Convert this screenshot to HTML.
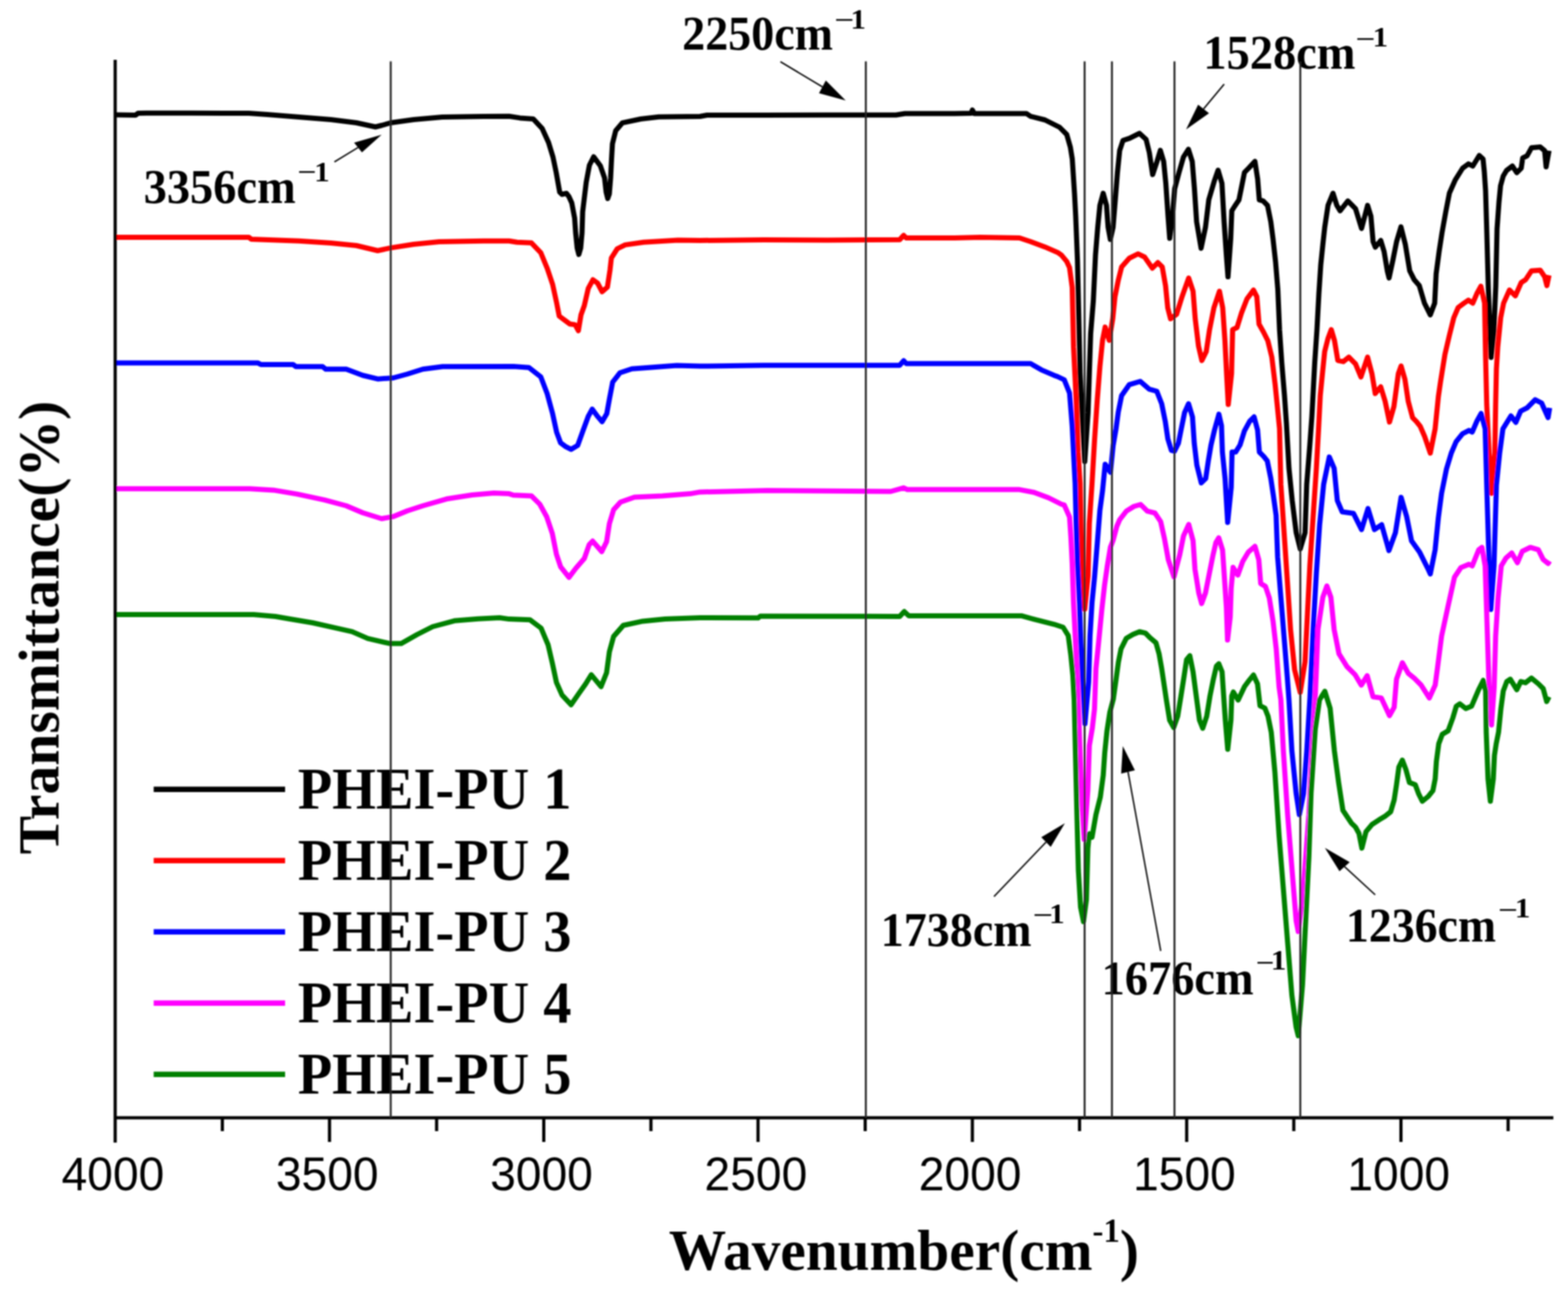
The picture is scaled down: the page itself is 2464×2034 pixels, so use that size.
<!DOCTYPE html><html><head><meta charset="utf-8"><title>FTIR spectra</title><style>html,body{margin:0;padding:0;background:#fff;overflow:hidden;}svg{display:block;}</style></head><body>
<svg width="2464" height="2034" viewBox="0 0 2464 2034">
<defs><filter id="soft" x="-0.01" y="-0.01" width="1.02" height="1.02"><feGaussianBlur stdDeviation="1"/></filter></defs>
<rect width="2464" height="2034" fill="#fff"/>
<g filter="url(#soft)">
<polyline fill="none" stroke="#000000" stroke-width="8" stroke-linejoin="round" stroke-linecap="butt" points="181.0,180.5 213.0,181.0 217.0,178.0 230.0,177.8 300.0,177.8 391.0,178.0 420.0,180.0 470.0,184.0 520.0,188.0 560.0,193.0 590.0,199.5 600.0,197.0 614.0,193.0 650.0,188.0 695.0,184.0 760.0,183.0 800.0,182.8 817.0,185.4 838.0,187.0 852.0,202.0 862.0,224.0 869.0,247.0 874.0,271.0 879.5,302.0 883.0,305.5 890.0,303.8 894.0,309.0 898.5,319.0 903.0,343.0 904.6,366.0 907.0,390.0 909.6,400.0 912.5,390.0 914.6,366.0 915.6,333.0 918.0,313.0 921.2,286.4 926.2,259.8 932.9,246.5 943.4,260.6 950.0,279.6 952.5,302.0 955.0,312.0 957.5,305.0 959.5,280.0 961.0,250.0 962.4,226.0 967.6,205.3 978.0,193.2 1007.0,187.0 1035.0,183.7 1100.0,183.0 1111.0,181.0 1200.0,181.0 1300.0,180.8 1408.0,180.8 1422.0,178.5 1500.0,178.5 1526.0,178.0 1528.0,173.0 1531.0,178.5 1613.0,178.5 1619.3,182.8 1642.0,188.5 1665.0,200.0 1676.3,211.3 1682.0,231.3 1685.0,250.0 1688.6,305.5 1690.4,340.0 1693.2,410.0 1697.3,586.6 1701.5,669.6 1704.6,725.6 1709.8,648.9 1711.8,586.6 1713.9,524.4 1718.1,472.6 1721.5,400.6 1725.0,357.4 1728.4,322.8 1733.6,303.8 1738.8,322.8 1741.3,357.4 1744.8,376.4 1749.1,357.4 1752.6,314.2 1756.0,271.0 1759.5,236.4 1764.7,220.8 1775.0,217.4 1790.6,209.6 1801.0,219.1 1806.1,239.9 1811.3,274.4 1818.2,253.7 1823.4,236.4 1828.6,253.7 1832.0,288.2 1835.5,340.0 1838.1,374.6 1842.4,340.0 1845.9,296.9 1852.8,271.0 1859.7,246.8 1867.5,234.7 1873.5,253.7 1877.0,296.9 1880.4,348.7 1887.4,390.2 1894.3,357.4 1899.5,314.2 1908.1,284.8 1914.1,267.5 1920.2,288.2 1923.6,348.7 1927.1,400.6 1929.7,435.1 1934.0,374.6 1935.7,331.4 1940.0,324.5 1946.9,314.2 1950.4,296.9 1955.6,271.0 1962.5,264.0 1972.0,253.7 1976.3,281.3 1978.9,314.2 1984.9,315.9 1991.8,322.8 1997.0,348.7 2000.4,375.0 2004.5,412.0 2008.0,455.0 2010.7,518.2 2014.2,570.1 2018.5,621.9 2021.5,665.0 2025.5,736.0 2030.6,786.7 2036.9,837.4 2043.2,862.8 2050.8,837.4 2053.4,761.4 2058.4,698.0 2061.5,655.0 2066.0,570.1 2069.5,518.2 2072.5,462.0 2075.5,416.0 2079.0,382.0 2081.7,357.4 2086.9,322.8 2094.7,303.8 2100.7,322.8 2105.9,331.4 2118.0,315.9 2130.1,328.0 2139.6,359.1 2149.1,322.8 2154.3,340.0 2157.7,379.8 2161.2,388.5 2169.8,378.1 2175.0,395.4 2180.2,426.5 2182.8,436.9 2188.8,409.2 2194.6,380.0 2201.5,356.7 2208.4,384.3 2215.3,425.8 2222.3,439.6 2230.3,448.8 2238.4,476.5 2247.6,494.9 2254.5,476.5 2256.8,430.4 2261.4,395.9 2266.0,365.9 2271.8,333.6 2277.6,303.7 2286.8,282.9 2298.3,264.5 2307.5,257.6 2314.4,261.0 2324.5,244.5 2330.5,250.0 2332.5,270.0 2334.5,300.0 2336.5,368.0 2338.8,453.5 2343.2,561.8 2347.5,520.0 2350.5,450.0 2352.5,360.0 2355.5,318.0 2358.0,292.0 2362.2,276.8 2367.4,268.0 2376.6,261.0 2383.5,271.4 2390.5,264.5 2392.8,248.4 2399.7,244.9 2406.6,232.3 2420.4,231.1 2427.3,236.9 2429.6,262.2 2434.2,236.9"/>
<polyline fill="none" stroke="#ff0000" stroke-width="8" stroke-linejoin="round" stroke-linecap="butt" points="181.0,373.0 250.0,373.0 391.0,373.0 395.0,376.0 470.0,378.7 520.0,382.0 560.0,386.0 593.5,394.0 614.0,389.6 650.0,384.0 690.0,380.0 760.0,378.7 800.0,378.7 812.4,380.7 835.0,381.8 849.8,397.3 860.0,422.0 868.4,447.0 874.7,476.0 878.8,496.9 887.0,503.0 895.4,509.3 903.7,510.4 908.9,519.7 913.0,494.8 918.2,480.3 924.4,453.3 931.7,439.8 939.0,445.0 946.2,458.5 954.5,451.2 958.6,424.3 960.7,405.6 970.0,391.0 982.5,384.9 1011.5,380.7 1065.4,377.6 1100.0,378.0 1200.0,377.0 1300.0,377.5 1413.8,376.8 1420.0,370.0 1424.0,374.0 1500.0,374.0 1540.0,373.0 1602.0,374.0 1619.3,379.7 1642.0,388.2 1662.0,396.8 1668.0,401.0 1676.3,411.0 1680.7,420.7 1684.9,451.8 1687.0,545.2 1691.1,628.1 1694.2,711.0 1697.3,760.0 1699.4,864.4 1702.5,947.4 1704.6,957.7 1709.8,905.9 1711.8,823.0 1716.0,760.7 1720.1,690.3 1724.3,628.1 1728.4,576.3 1732.6,534.8 1736.7,514.1 1743.0,534.8 1748.6,501.0 1752.1,466.4 1757.3,440.5 1762.5,419.7 1774.6,405.9 1788.4,399.0 1798.8,404.2 1810.8,421.5 1819.5,412.8 1826.4,419.7 1831.6,449.1 1835.0,483.7 1839.4,501.0 1848.9,494.0 1857.5,466.4 1867.9,437.0 1874.8,457.8 1878.2,501.0 1883.4,544.2 1888.6,566.6 1895.5,552.8 1900.7,518.2 1907.6,483.7 1916.3,457.8 1921.4,483.7 1924.9,535.5 1927.5,587.4 1930.1,635.7 1935.3,587.4 1937.0,518.2 1943.9,514.8 1950.8,492.3 1959.5,469.9 1969.8,456.0 1975.0,466.4 1978.5,509.6 1985.4,521.7 1992.3,535.5 1998.6,561.4 2003.8,604.6 2007.3,639.2 2010.7,673.8 2012.8,761.4 2017.9,837.4 2023.0,913.5 2028.0,989.5 2034.4,1052.9 2043.2,1088.4 2050.8,1040.2 2054.6,964.2 2058.4,888.1 2063.5,812.1 2068.6,736.0 2072.0,675.0 2074.7,621.9 2078.1,587.4 2081.6,552.8 2086.8,532.1 2092.0,518.2 2097.1,535.5 2102.3,566.6 2111.0,568.4 2119.6,561.4 2130.0,571.8 2138.6,592.5 2149.0,561.4 2155.9,587.4 2161.1,618.5 2169.7,608.1 2176.6,630.6 2183.5,663.4 2190.4,639.2 2197.4,587.4 2201.7,575.3 2207.7,596.0 2212.9,630.6 2219.8,656.5 2225.7,662.5 2231.9,670.3 2238.4,685.3 2247.6,712.1 2255.2,674.1 2260.3,623.4 2263.7,600.0 2270.6,557.1 2277.6,527.2 2284.5,499.5 2291.4,483.4 2300.6,476.5 2307.5,471.9 2314.4,476.5 2321.3,460.4 2327.1,450.0 2332.9,476.5 2334.5,560.0 2336.3,636.0 2340.1,712.1 2343.9,775.5 2349.0,712.1 2350.3,636.0 2351.5,580.3 2353.6,545.6 2358.2,499.5 2362.8,476.5 2372.0,455.8 2381.2,465.0 2390.5,444.2 2397.4,439.6 2406.6,425.8 2420.4,424.7 2427.3,435.0 2430.8,448.8 2434.2,432.7"/>
<polyline fill="none" stroke="#0000ff" stroke-width="8" stroke-linejoin="round" stroke-linecap="butt" points="181.0,570.4 405.0,570.4 410.0,573.0 460.6,573.0 465.0,576.3 507.0,576.3 512.0,580.3 544.0,580.3 570.0,590.0 593.5,595.7 618.0,594.0 640.0,588.0 664.6,580.3 695.5,576.3 806.8,576.0 831.0,577.7 849.8,592.3 860.0,619.2 868.4,650.3 874.7,679.4 880.9,696.0 889.2,702.2 897.5,706.3 907.8,700.1 916.0,677.3 924.4,654.5 930.6,643.1 939.0,654.5 946.2,662.8 953.5,650.3 957.6,627.5 962.8,600.6 974.2,586.0 992.9,579.8 1019.8,577.7 1063.4,574.6 1100.0,575.6 1200.0,574.2 1413.8,574.2 1420.0,567.0 1424.0,571.4 1619.3,571.4 1636.4,581.3 1656.3,589.9 1662.0,592.0 1672.4,597.0 1680.7,617.7 1684.9,669.6 1688.0,731.8 1689.5,760.0 1691.1,823.0 1693.2,885.2 1696.3,947.4 1698.4,1009.6 1701.5,1071.8 1704.9,1137.6 1710.8,1071.8 1712.9,999.2 1716.0,947.4 1720.1,905.9 1724.3,854.1 1728.4,802.2 1732.6,771.1 1736.7,729.7 1745.0,742.2 1749.2,700.7 1753.8,673.8 1757.3,647.8 1762.5,621.9 1774.6,604.6 1791.8,599.5 1805.7,611.6 1817.8,615.0 1825.5,634.6 1831.1,662.2 1835.2,689.9 1840.7,707.8 1845.6,709.2 1851.8,696.8 1855.9,676.0 1861.5,648.4 1867.7,634.6 1873.9,655.3 1876.7,696.8 1880.8,731.3 1887.7,759.0 1894.7,752.1 1898.8,724.4 1903.0,699.5 1908.5,676.0 1915.4,651.2 1919.5,669.1 1920.9,710.6 1925.1,752.1 1929.2,821.2 1934.8,765.9 1936.1,710.6 1941.7,710.6 1948.6,699.5 1955.5,677.4 1963.8,662.2 1970.7,655.3 1976.2,676.0 1979.0,710.6 1985.9,717.5 1991.4,724.4 1997.0,752.1 2001.1,779.7 2005.3,810.0 2007.7,875.5 2012.8,938.8 2017.9,1002.2 2023.0,1065.6 2025.5,1100.0 2030.1,1180.2 2036.8,1247.1 2041.8,1280.5 2048.5,1247.1 2053.5,1180.2 2058.5,1096.7 2063.5,989.5 2068.6,900.8 2073.7,824.8 2080.0,761.4 2088.9,718.3 2096.5,736.0 2101.5,786.7 2109.1,804.5 2126.9,807.0 2139.6,832.4 2149.7,799.4 2159.8,832.4 2171.2,824.8 2182.6,865.3 2192.8,837.4 2201.7,781.7 2210.5,812.1 2218.1,850.1 2230.8,867.9 2243.5,893.2 2247.6,902.2 2255.2,864.2 2260.3,813.5 2265.3,775.5 2273.0,737.4 2280.6,712.1 2288.2,694.3 2298.3,681.7 2308.4,676.6 2313.5,679.1 2321.1,661.4 2327.5,650.0 2333.8,674.1 2336.3,762.8 2340.1,889.5 2342.7,958.0 2347.7,889.5 2351.5,762.8 2356.6,712.1 2361.7,674.1 2374.3,653.8 2382.0,663.9 2389.6,646.2 2399.7,641.1 2412.4,628.4 2422.5,633.5 2432.7,656.3 2435.2,641.1"/>
<polyline fill="none" stroke="#ff00ff" stroke-width="8" stroke-linejoin="round" stroke-linecap="butt" points="181.0,768.2 392.6,768.2 429.7,770.4 466.8,776.6 510.0,785.8 544.0,795.0 570.0,806.0 599.7,815.2 618.0,812.0 640.0,803.0 664.6,795.0 701.7,784.3 741.9,778.0 775.9,775.0 800.0,776.1 806.6,778.3 835.0,779.4 848.2,792.5 859.1,812.2 867.9,838.5 874.4,871.3 881.0,891.0 894.1,907.5 905.0,893.2 918.2,877.9 925.9,856.0 931.3,850.6 945.6,867.0 953.2,851.6 957.6,823.2 964.2,801.3 975.1,789.3 997.0,781.6 1040.8,779.4 1084.6,776.1 1100.0,773.4 1205.6,771.0 1399.6,772.5 1420.0,766.8 1426.0,769.6 1602.0,769.6 1625.0,774.0 1647.8,782.5 1667.8,792.5 1672.4,793.9 1680.7,812.6 1682.8,843.7 1684.9,885.2 1687.0,947.4 1690.1,1009.6 1693.2,1071.8 1696.9,1172.2 1700.3,1264.3 1703.8,1319.6 1709.5,1241.3 1711.8,1172.2 1716.5,1144.5 1719.9,1114.6 1722.2,1051.1 1726.4,1009.6 1731.5,957.7 1735.7,920.0 1740.0,890.0 1745.0,860.0 1749.0,849.9 1755.0,827.4 1759.5,816.9 1770.0,803.4 1781.9,796.0 1792.4,793.0 1802.9,803.4 1814.9,806.4 1823.9,819.9 1829.9,846.9 1835.9,879.8 1844.8,906.8 1853.8,872.3 1859.8,842.4 1868.0,824.4 1874.8,849.9 1877.8,894.8 1883.8,932.2 1888.3,948.7 1894.3,932.2 1900.2,902.3 1906.2,872.3 1910.7,852.9 1915.2,845.4 1921.2,864.8 1924.2,909.8 1927.2,954.7 1929.0,1006.0 1933.2,969.7 1934.7,924.7 1937.7,891.8 1945.2,903.8 1952.7,882.8 1961.7,867.8 1972.1,858.8 1978.1,879.8 1981.1,917.3 1988.6,921.7 1994.6,939.7 2000.6,977.2 2005.5,1020.0 2010.0,1080.0 2012.8,1100.0 2016.7,1180.2 2023.4,1280.5 2030.1,1364.0 2036.8,1447.5 2040.1,1464.2 2046.8,1414.1 2051.8,1347.3 2056.8,1280.5 2061.8,1180.2 2066.8,1096.7 2071.1,989.5 2078.7,938.8 2085.1,921.1 2091.4,938.8 2096.5,989.5 2104.1,1027.6 2116.7,1047.8 2129.4,1060.5 2139.2,1076.9 2148.4,1062.1 2157.6,1095.3 2170.6,1097.1 2183.5,1124.8 2190.8,1111.9 2194.5,1067.6 2203.7,1041.8 2213.0,1058.4 2222.2,1065.8 2233.2,1076.9 2246.1,1097.1 2255.3,1076.9 2259.0,1049.2 2265.3,1000.0 2275.5,952.9 2285.6,907.3 2295.8,892.1 2308.4,887.0 2313.5,889.5 2323.7,864.2 2328.7,860.4 2333.8,889.5 2336.3,965.6 2340.0,1080.0 2343.8,1139.5 2348.0,1080.0 2350.3,1000.0 2354.1,940.2 2359.1,889.5 2366.7,876.9 2375.6,869.2 2384.5,884.5 2392.1,866.7 2404.8,860.4 2417.4,864.2 2425.0,879.4 2432.7,885.7 2435.2,881.9"/>
<polyline fill="none" stroke="#008000" stroke-width="8" stroke-linejoin="round" stroke-linecap="butt" points="181.0,965.9 398.7,965.9 432.8,969.0 454.4,972.7 491.5,979.0 525.5,986.6 553.3,992.8 578.0,1003.6 612.0,1011.4 630.6,1011.4 655.3,997.5 680.0,985.0 714.0,975.8 751.0,972.7 785.0,971.0 800.0,973.1 832.8,974.2 850.3,987.4 861.3,1013.6 867.9,1042.1 874.4,1072.7 883.2,1092.5 897.4,1107.8 909.5,1090.3 920.4,1074.9 929.2,1060.7 944.5,1079.3 953.2,1057.4 957.6,1024.6 964.2,1000.5 979.5,983.0 1010.2,976.4 1045.2,973.1 1100.0,971.0 1191.3,971.3 1195.0,968.4 1413.8,969.0 1421.0,961.3 1428.0,967.9 1605.0,967.9 1627.8,974.2 1656.3,981.3 1670.6,986.0 1678.7,999.2 1682.8,1030.3 1685.9,1061.4 1688.0,1100.0 1690.0,1183.7 1692.3,1280.5 1694.6,1368.0 1698.0,1425.6 1702.6,1448.7 1707.2,1414.1 1709.5,1333.5 1711.8,1310.4 1716.0,1316.0 1722.2,1280.5 1729.1,1252.8 1733.7,1218.2 1736.0,1183.7 1739.5,1149.1 1744.1,1119.2 1749.5,1099.0 1753.3,1071.8 1757.5,1040.7 1761.6,1020.0 1769.9,1003.4 1780.3,997.2 1790.7,993.0 1800.0,995.2 1807.6,1002.8 1816.5,1010.4 1821.5,1028.2 1825.3,1049.7 1829.1,1075.0 1832.9,1100.4 1838.0,1132.1 1844.4,1143.5 1850.7,1125.7 1855.8,1094.0 1860.8,1062.4 1864.6,1037.0 1869.7,1030.7 1874.8,1056.0 1879.8,1094.0 1884.9,1132.1 1890.0,1144.7 1896.3,1125.7 1901.4,1094.0 1906.5,1068.7 1911.5,1047.2 1915.3,1043.4 1920.4,1056.0 1922.9,1094.0 1925.5,1132.1 1929.3,1177.7 1934.3,1132.1 1935.6,1094.0 1938.1,1087.7 1945.7,1100.4 1955.9,1078.8 1963.5,1068.7 1969.8,1061.1 1976.1,1075.0 1980.0,1109.3 1987.6,1113.0 1992.6,1125.7 1997.7,1151.1 2003.4,1213.6 2010.0,1313.9 2016.7,1397.4 2023.4,1480.9 2030.1,1564.5 2036.8,1614.6 2040.1,1628.0 2046.8,1547.8 2051.8,1447.5 2056.8,1347.3 2060.2,1247.1 2066.8,1146.8 2073.5,1100.0 2081.9,1086.7 2090.2,1113.4 2096.9,1180.2 2103.6,1230.4 2110.3,1273.8 2123.6,1293.8 2130.0,1300.0 2135.5,1310.0 2140.1,1333.1 2146.6,1307.3 2155.8,1296.2 2166.9,1288.8 2176.1,1283.3 2185.3,1276.0 2190.8,1257.5 2194.5,1233.5 2198.2,1205.9 2203.7,1194.8 2209.3,1209.6 2214.8,1229.9 2224.0,1233.5 2229.5,1248.3 2235.1,1259.4 2244.3,1252.0 2251.7,1242.8 2255.3,1224.3 2257.2,1196.7 2260.9,1169.0 2266.4,1154.3 2275.6,1148.8 2283.0,1128.5 2288.5,1110.0 2294.0,1106.4 2303.3,1113.7 2312.5,1110.0 2318.0,1097.1 2323.5,1084.2 2330.9,1069.5 2334.6,1086.1 2335.5,1150.6 2338.3,1224.3 2342.0,1259.4 2346.6,1224.3 2348.4,1187.5 2351.2,1169.0 2354.9,1150.6 2358.6,1113.7 2362.3,1086.1 2367.8,1071.3 2373.3,1067.6 2383.5,1084.2 2389.9,1071.3 2397.3,1073.2 2406.5,1065.8 2417.6,1075.0 2425.0,1082.4 2430.5,1102.7 2434.2,1095.3"/>
<line x1="181" y1="94" x2="181" y2="1796" stroke="#000" stroke-width="5"/>
<line x1="179" y1="1757" x2="2441" y2="1757" stroke="#000" stroke-width="5"/>
<line x1="349.4" y1="1757" x2="349.4" y2="1778" stroke="#000" stroke-width="5"/>
<line x1="517.8" y1="1757" x2="517.8" y2="1795" stroke="#000" stroke-width="5"/>
<line x1="686.1" y1="1757" x2="686.1" y2="1778" stroke="#000" stroke-width="5"/>
<line x1="854.5" y1="1757" x2="854.5" y2="1795" stroke="#000" stroke-width="5"/>
<line x1="1022.9" y1="1757" x2="1022.9" y2="1778" stroke="#000" stroke-width="5"/>
<line x1="1191.2" y1="1757" x2="1191.2" y2="1795" stroke="#000" stroke-width="5"/>
<line x1="1359.6" y1="1757" x2="1359.6" y2="1778" stroke="#000" stroke-width="5"/>
<line x1="1528.0" y1="1757" x2="1528.0" y2="1795" stroke="#000" stroke-width="5"/>
<line x1="1696.4" y1="1757" x2="1696.4" y2="1778" stroke="#000" stroke-width="5"/>
<line x1="1864.8" y1="1757" x2="1864.8" y2="1795" stroke="#000" stroke-width="5"/>
<line x1="2033.1" y1="1757" x2="2033.1" y2="1778" stroke="#000" stroke-width="5"/>
<line x1="2201.5" y1="1757" x2="2201.5" y2="1795" stroke="#000" stroke-width="5"/>
<line x1="2369.9" y1="1757" x2="2369.9" y2="1778" stroke="#000" stroke-width="5"/>
<text x="177.5" y="1871" font-family="Liberation Sans, Arial, sans-serif" font-size="75" text-anchor="middle" textLength="161.5" lengthAdjust="spacingAndGlyphs" fill="#000">4000</text>
<text x="514.2" y="1871" font-family="Liberation Sans, Arial, sans-serif" font-size="75" text-anchor="middle" textLength="161.5" lengthAdjust="spacingAndGlyphs" fill="#000">3500</text>
<text x="851.0" y="1871" font-family="Liberation Sans, Arial, sans-serif" font-size="75" text-anchor="middle" textLength="161.5" lengthAdjust="spacingAndGlyphs" fill="#000">3000</text>
<text x="1187.8" y="1871" font-family="Liberation Sans, Arial, sans-serif" font-size="75" text-anchor="middle" textLength="161.5" lengthAdjust="spacingAndGlyphs" fill="#000">2500</text>
<text x="1524.5" y="1871" font-family="Liberation Sans, Arial, sans-serif" font-size="75" text-anchor="middle" textLength="161.5" lengthAdjust="spacingAndGlyphs" fill="#000">2000</text>
<text x="1861.2" y="1871" font-family="Liberation Sans, Arial, sans-serif" font-size="75" text-anchor="middle" textLength="161.5" lengthAdjust="spacingAndGlyphs" fill="#000">1500</text>
<text x="2198.0" y="1871" font-family="Liberation Sans, Arial, sans-serif" font-size="75" text-anchor="middle" textLength="161.5" lengthAdjust="spacingAndGlyphs" fill="#000">1000</text>
<g transform="translate(1051,0) scale(0.9905,1) translate(-1051,0)"><text x="1051" y="1996" font-family="Liberation Serif, Times New Roman, serif" font-weight="bold" font-size="91" fill="#000">Wavenumber(cm<tspan font-size="52" dy="-44">-1</tspan><tspan dy="44">)</tspan></text></g>
<text transform="translate(92,986.4) rotate(-90) scale(1.007,1)" x="0" y="0" font-family="Liberation Serif, Times New Roman, serif" font-weight="bold" font-size="90" text-anchor="middle" fill="#000">Transmittance(%)</text>
<text x="1072.0" y="78.0" font-family="Liberation Serif, Times New Roman, serif" font-weight="bold" font-size="76" textLength="237.0" lengthAdjust="spacingAndGlyphs" fill="#000">2250cm</text>
<text transform="translate(1311.08,44.10) scale(1.223,0.85)" font-family="Liberation Serif, Times New Roman, serif" font-weight="bold" font-size="45" fill="#000">&#8722;</text>
<text transform="translate(1336.61,44.70) scale(1.08,1)" font-family="Liberation Serif, Times New Roman, serif" font-weight="bold" font-size="45" fill="#000">1</text>
<text x="1891.0" y="107.5" font-family="Liberation Serif, Times New Roman, serif" font-weight="bold" font-size="76" textLength="239.0" lengthAdjust="spacingAndGlyphs" fill="#000">1528cm</text>
<text transform="translate(2130.08,73.60) scale(1.223,0.85)" font-family="Liberation Serif, Times New Roman, serif" font-weight="bold" font-size="45" fill="#000">&#8722;</text>
<text transform="translate(2157.11,73.30) scale(1.08,1)" font-family="Liberation Serif, Times New Roman, serif" font-weight="bold" font-size="45" fill="#000">1</text>
<text x="225.7" y="318.5" font-family="Liberation Serif, Times New Roman, serif" font-weight="bold" font-size="76" textLength="239.0" lengthAdjust="spacingAndGlyphs" fill="#000">3356cm</text>
<text transform="translate(467.20,283.20) scale(1.176,0.85)" font-family="Liberation Serif, Times New Roman, serif" font-weight="bold" font-size="45" fill="#000">&#8722;</text>
<text transform="translate(493.81,284.50) scale(1.08,1)" font-family="Liberation Serif, Times New Roman, serif" font-weight="bold" font-size="45" fill="#000">1</text>
<text x="1384.0" y="1487.3" font-family="Liberation Serif, Times New Roman, serif" font-weight="bold" font-size="76" textLength="237.0" lengthAdjust="spacingAndGlyphs" fill="#000">1738cm</text>
<text transform="translate(1622.81,1450.70) scale(1.252,0.85)" font-family="Liberation Serif, Times New Roman, serif" font-weight="bold" font-size="45" fill="#000">&#8722;</text>
<text transform="translate(1648.71,1450.60) scale(1.08,1)" font-family="Liberation Serif, Times New Roman, serif" font-weight="bold" font-size="45" fill="#000">1</text>
<text x="1731.0" y="1563.0" font-family="Liberation Serif, Times New Roman, serif" font-weight="bold" font-size="76" textLength="239.0" lengthAdjust="spacingAndGlyphs" fill="#000">1676cm</text>
<text transform="translate(1973.26,1526.40) scale(1.147,0.85)" font-family="Liberation Serif, Times New Roman, serif" font-weight="bold" font-size="45" fill="#000">&#8722;</text>
<text transform="translate(1997.11,1524.00) scale(1.08,1)" font-family="Liberation Serif, Times New Roman, serif" font-weight="bold" font-size="45" fill="#000">1</text>
<text x="2115.0" y="1479.7" font-family="Liberation Serif, Times New Roman, serif" font-weight="bold" font-size="76" textLength="236.0" lengthAdjust="spacingAndGlyphs" fill="#000">1236cm</text>
<text transform="translate(2354.08,1443.00) scale(1.223,0.85)" font-family="Liberation Serif, Times New Roman, serif" font-weight="bold" font-size="45" fill="#000">&#8722;</text>
<text transform="translate(2380.61,1441.70) scale(1.08,1)" font-family="Liberation Serif, Times New Roman, serif" font-weight="bold" font-size="45" fill="#000">1</text>
<line x1="1226.4" y1="97.0" x2="1292.3" y2="136.5" stroke="#000" stroke-width="2.2"/>
<polygon points="1329.0,158.0 1287.0,146.5 1297.7,126.5" fill="#000"/>
<line x1="1923.7" y1="132.2" x2="1891.3" y2="171.2" stroke="#000" stroke-width="2.2"/>
<polygon points="1863.8,203.5 1882.8,164.6 1899.9,177.9" fill="#000"/>
<line x1="525.5" y1="254.5" x2="562.6" y2="231.9" stroke="#000" stroke-width="2.2"/>
<polygon points="599.7,211.8 556.4,224.2 568.8,239.6" fill="#000"/>
<line x1="1562.0" y1="1409.3" x2="1643.7" y2="1323.7" stroke="#000" stroke-width="2.2"/>
<polygon points="1673.4,1293.9 1636.3,1316.1 1651.1,1331.3" fill="#000"/>
<line x1="1824.0" y1="1494.7" x2="1772.6" y2="1213.3" stroke="#000" stroke-width="2.2"/>
<polygon points="1764.4,1172.8 1761.8,1215.9 1783.4,1210.8" fill="#000"/>
<line x1="2161.0" y1="1406.5" x2="2112.9" y2="1362.3" stroke="#000" stroke-width="2.2"/>
<polygon points="2082.0,1332.7 2104.9,1369.4 2121.0,1355.2" fill="#000"/>
<line x1="241.5" y1="1240.7" x2="448" y2="1240.7" stroke="#000000" stroke-width="8.5"/>
<text x="468" y="1271.2" font-family="Liberation Serif, Times New Roman, serif" font-weight="bold" font-size="93" textLength="430" lengthAdjust="spacingAndGlyphs" fill="#000">PHEI-PU 1</text>
<line x1="241.5" y1="1352.7" x2="448" y2="1352.7" stroke="#ff0000" stroke-width="8.5"/>
<text x="468" y="1383.2" font-family="Liberation Serif, Times New Roman, serif" font-weight="bold" font-size="93" textLength="430" lengthAdjust="spacingAndGlyphs" fill="#000">PHEI-PU 2</text>
<line x1="241.5" y1="1464.7" x2="448" y2="1464.7" stroke="#0000ff" stroke-width="8.5"/>
<text x="468" y="1495.2" font-family="Liberation Serif, Times New Roman, serif" font-weight="bold" font-size="93" textLength="430" lengthAdjust="spacingAndGlyphs" fill="#000">PHEI-PU 3</text>
<line x1="241.5" y1="1576.7" x2="448" y2="1576.7" stroke="#ff00ff" stroke-width="8.5"/>
<text x="468" y="1607.2" font-family="Liberation Serif, Times New Roman, serif" font-weight="bold" font-size="93" textLength="430" lengthAdjust="spacingAndGlyphs" fill="#000">PHEI-PU 4</text>
<line x1="241.5" y1="1688.7" x2="448" y2="1688.7" stroke="#008000" stroke-width="8.5"/>
<text x="468" y="1719.2" font-family="Liberation Serif, Times New Roman, serif" font-weight="bold" font-size="93" textLength="430" lengthAdjust="spacingAndGlyphs" fill="#000">PHEI-PU 5</text>
<line x1="614.0" y1="96.5" x2="614.0" y2="1757" stroke="#222" stroke-width="3"/>
<line x1="1360.6" y1="96.5" x2="1360.6" y2="1757" stroke="#222" stroke-width="3"/>
<line x1="1704.4" y1="96.5" x2="1704.4" y2="1757" stroke="#222" stroke-width="3"/>
<line x1="1747.3" y1="96.5" x2="1747.3" y2="1757" stroke="#222" stroke-width="3"/>
<line x1="1845.6" y1="96.5" x2="1845.6" y2="1757" stroke="#222" stroke-width="3"/>
<line x1="2043.3" y1="96.5" x2="2043.3" y2="1757" stroke="#222" stroke-width="3"/>
</g>
</svg></body></html>
